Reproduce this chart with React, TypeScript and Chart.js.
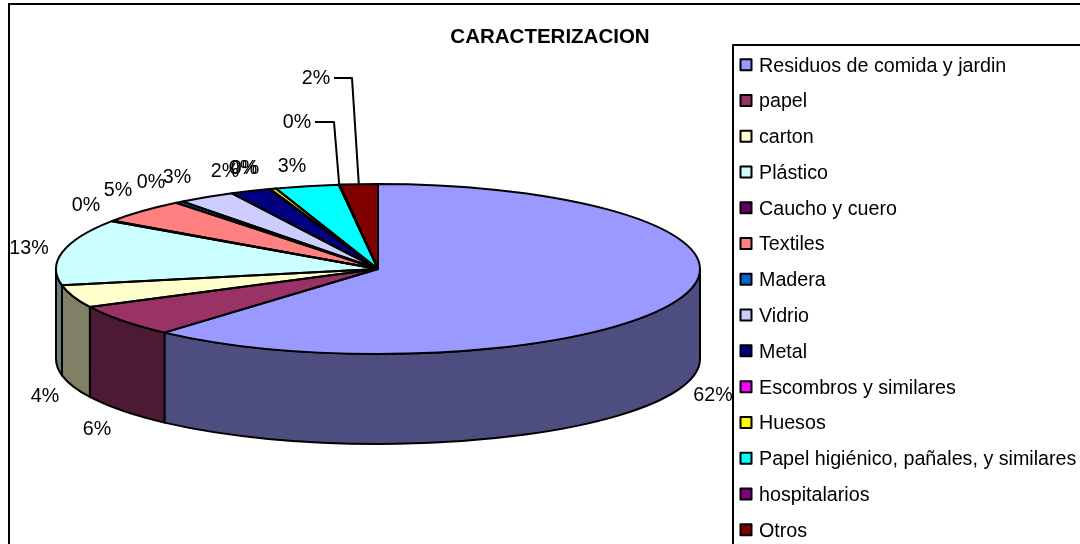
import React, { useEffect, useRef } from "react";
import { Chart, registerables } from "chart.js";

Chart.register(...registerables);

const chartTitle = "CARACTERIZACION";
const categories = [
  "Residuos de comida y jardin",
  "papel",
  "carton",
  "Plástico",
  "Caucho y cuero",
  "Textiles",
  "Madera",
  "Vidrio",
  "Metal",
  "Escombros y similares",
  "Huesos",
  "Papel higiénico, pañales, y similares",
  "hospitalarios",
  "Otros",
];
const shares = [61.6, 6.1, 4.3, 12.6, 0.1, 4.6, 0.4, 2.9, 2.0, 0.05, 0.3, 3.2, 0.05, 1.9];
const colours = [
  "#9999FF", "#993366", "#FFFFCC", "#CCFFFF", "#660066", "#FF8080", "#0066CC",
  "#CCCCFF", "#000080", "#FF00FF", "#FFFF00", "#00FFFF", "#800080", "#800000",
];

// Placement of the percentage labels (text centres), by slice.
const labelCentres: [number, number][] = [
  [713, 395], [97, 429], [45, 396], [29, 248], [86, 205], [118, 190], [151, 182],
  [177, 177], [225, 171], [243, 168], [245, 168], [292, 166], [297, 122], [316, 78],
];
// Callout elbows: slice index, start of the line, elbow.
const callouts: [number, [number, number], [number, number]][] = [
  [12, [315, 122], [334, 122]],
  [13, [334, 78], [352, 78]],
];

const FONT = '"Liberation Sans", Arial, sans-serif';
const DEPTH = 90;
const LINE = 2;

function halfTone(hex: string) {
  const n = parseInt(hex.slice(1), 16);
  const c = (s: number) => Math.round(((n >> s) & 255) / 2);
  return `rgb(${c(16)},${c(8)},${c(0)})`;
}

const pie3d = {
  id: "pie3d",
  beforeDraw(chart: any) {
    const { ctx } = chart;
    ctx.save();
    ctx.fillStyle = "#fff";
    ctx.fillRect(0, 0, chart.width, chart.height);
    ctx.strokeStyle = "#000";
    ctx.lineWidth = 2;
    ctx.strokeRect(9, 4, chart.width + 20, chart.height + 20);
    ctx.fillStyle = "#000";
    ctx.font = `bold 20.5px ${FONT}`;
    ctx.textAlign = "center";
    ctx.textBaseline = "middle";
    ctx.fillText(chartTitle, 550, 37);
    ctx.restore();
  },
  beforeDatasetsDraw(chart: any) {
    const { ctx, chartArea } = chart;
    const arcs = chart.getDatasetMeta(0).data;
    const rx = (chartArea.right - chartArea.left) / 2;
    const ry = (chartArea.bottom - chartArea.top) / 2;
    const cx = arcs[0].x;
    const cy = arcs[0].y;
    const R = arcs[0].outerRadius;
    // Side wall of the disc, from the library's own arc angles.
    ctx.save();
    ctx.lineJoin = "round";
    ctx.lineWidth = LINE;
    ctx.strokeStyle = "#000";
    arcs.forEach((arc: any, i: number) => {
      const a0 = Math.max(arc.startAngle, 0);
      const a1 = Math.min(arc.endAngle, Math.PI);
      if (a1 <= a0) return;
      ctx.beginPath();
      ctx.ellipse(cx, cy, rx, ry, 0, a0, a1);
      ctx.ellipse(cx, cy + DEPTH, rx, ry, 0, a1, a0, true);
      ctx.closePath();
      ctx.fillStyle = halfTone(colours[i]);
      ctx.fill();
      ctx.stroke();
    });
    ctx.restore();
    // The library's arcs are drawn flattened into the ellipse.
    ctx.save();
    ctx.translate(cx, cy);
    ctx.scale(rx / R, ry / R);
    ctx.translate(-cx, -cy);
  },
  afterDatasetsDraw(chart: any) {
    const { ctx, chartArea } = chart;
    ctx.restore();
    const arcs = chart.getDatasetMeta(0).data;
    const rx = (chartArea.right - chartArea.left) / 2;
    const ry = (chartArea.bottom - chartArea.top) / 2;
    const cx = arcs[0].x;
    const cy = arcs[0].y;
    ctx.save();
    ctx.lineJoin = "round";
    ctx.lineWidth = LINE;
    ctx.strokeStyle = "#000";
    arcs.forEach((arc: any) => {
      ctx.beginPath();
      ctx.moveTo(cx, cy);
      ctx.ellipse(cx, cy, rx, ry, 0, arc.startAngle, arc.endAngle);
      ctx.closePath();
      ctx.stroke();
    });

    // Callout lines
    callouts.forEach(([i, start, elbow]) => {
      const mid = (arcs[i].startAngle + arcs[i].endAngle) / 2;
      ctx.beginPath();
      ctx.moveTo(start[0], start[1]);
      ctx.lineTo(elbow[0], elbow[1]);
      ctx.lineTo(cx + rx * Math.cos(mid), cy + ry * Math.sin(mid));
      ctx.stroke();
    });

    // Percentage labels
    const total = shares.reduce((a, b) => a + b, 0);
    ctx.fillStyle = "#000";
    ctx.font = `19.7px ${FONT}`;
    ctx.textAlign = "center";
    ctx.textBaseline = "middle";
    shares.forEach((v, i) => {
      const [x, y] = labelCentres[i];
      ctx.fillText(`${Math.round((v / total) * 100)}%`, x, y + 1);
    });

    // Legend
    const left = 733;
    const top = 45;
    ctx.fillStyle = "#fff";
    ctx.fillRect(left, top, chart.width - left + 20, chart.height - top + 20);
    ctx.lineWidth = 2;
    ctx.strokeRect(left, top, chart.width - left + 20, chart.height - top + 20);
    ctx.textAlign = "left";
    categories.forEach((name, i) => {
      const y = 64.7 + i * 35.77;
      ctx.fillStyle = colours[i];
      ctx.fillRect(740.5, y - 5.5, 11, 11);
      ctx.strokeRect(740.5, y - 5.5, 11, 11);
      ctx.fillStyle = "#000";
      ctx.fillText(name, 759, y + 1.5);
    });
    ctx.restore();
  },
};

export default function App() {
  const ref = useRef<HTMLCanvasElement>(null);
  useEffect(() => {
    const chart = new Chart(ref.current!, {
      type: "pie",
      data: {
        labels: categories,
        datasets: [{ data: shares, backgroundColor: colours, borderWidth: 0, clip: false } as any],
      },
      options: {
        animation: false,
        responsive: false,
        events: [],
        layout: { padding: { left: 56, right: 380, top: 184, bottom: 190 } },
        plugins: {
          legend: { display: false },
          title: { display: false },
          tooltip: { enabled: false },
        },
      },
      plugins: [pie3d],
    } as any);
    return () => chart.destroy();
  }, []);
  return (
    <div style={{ position: "fixed", left: 0, top: 0, width: 1080, height: 544, overflow: "hidden" }}>
      <canvas ref={ref} width={1080} height={544} style={{ display: "block" }} />
    </div>
  );
}
